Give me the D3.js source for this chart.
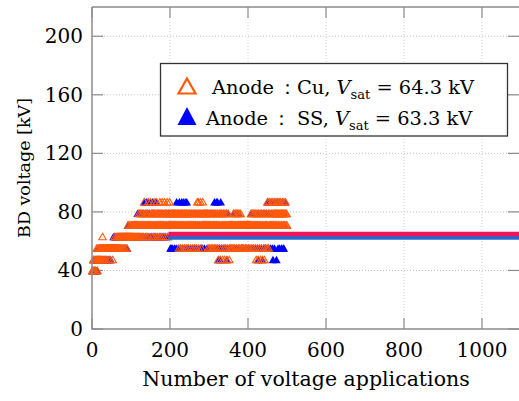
<html>
<script src="https://d3js.org/d3.v7.min.js"></script>
<body style="margin:0;background:#fff">
<script>
// breakdown voltage steps (kV); each character of the shot strings is a step index
const levels = [40, 47.5, 55.3, 63.2, 71.1, 79, 86.9];
const cuShots =
  "0001010010" + "1210121121" + "2122123122" + "1221221222" + "2122212222" +
  "2212222322" + "2322323223" + "3232332332" + "3233233323" + "3343334334" +
  "3433434344" + "3443434435" + "4345344534" + "5436453454" + "3546435446" +
  "4534543564" + "5345463544" + "5346543546" + "4534564534" + "5463545464" +
  "4545445454" + "5445454454" + "4524544254" + "5425445245" + "4254452454" +
  "5424544254" + "4524454256" + "4562454654" + "2546454544" + "5454454245" +
  "4254425424" + "5424542544" + "2541452415" + "4254145241" + "5424514254" +
  "4124424424" + "4254425442" + "5445245424" + "5424424424" + "4424442444" +
  "2444244542" + "4542544524" + "1452415424" + "5142541452" + "4154245426" +
  "4526454464" + "5465446545" + "4654564546" + "5465454654" + "5645465454";
const ssShots =
  "0010001010" + "1101211212" + "2112121221" + "2212122122" + "1221222122" +
  "2222322232" + "3232233232" + "2332323323" + "3323332332" + "3433343334" +
  "4343443434" + "3443435434" + "4534435454" + "3546453464" + "5436454536" +
  "4543564543" + "5436453454" + "4535434543" + "5434543545" + "4543545454" +
  "2452452454" + "5245426454" + "2546452456" + "4526454265" + "4562452454" +
  "5425445245" + "4254452454" + "5424544254" + "4524454245" + "5454245454" +
  "4254452454" + "5426454264" + "4621452416" + "4254425424" + "5424514254" +
  "4424424424" + "4254425442" + "5445245424" + "4424424424" + "4424442444" +
  "2444244542" + "4542544524" + "4452415424" + "5442541452" + "4254245426" +
  "4526454264" + "5421456245" + "4615462546" + "2465424652" + "42546";
const vsatCu = 64.3, vsatSS = 63.3, vsatFrom = 196, vsatTo = 1100;
const xTicks = [0, 200, 400, 600, 800, 1000];
const yTicks = [0, 40, 80, 120, 160, 200];

const cu = Array.from(cuShots, (c, i) => ({n: i + 1, v: levels[+c]}));
const ss = Array.from(ssShots, (c, i) => ({n: i + 1, v: levels[+c]}));

const W = 519, H = 401;
const L = 92, T = 7, R = 521, B = 329;
const font = "'DejaVu Serif', serif";

const svg = d3.select("body").append("svg").attr("width", W).attr("height", H)
  .style("font-family", font);

const x = d3.scaleLinear().domain([0, 1100]).range([L, R]);
const y = d3.scaleLinear().domain([0, 220]).range([B, T]);

// grid
svg.selectAll(".hg").data(yTicks.slice(1)).enter().append("line")
  .attr("x1", L).attr("x2", R).attr("y1", d => y(d)).attr("y2", d => y(d))
  .attr("stroke", "#b4b4b4").attr("stroke-width", 0.8).attr("stroke-dasharray", "1,2");
svg.selectAll(".vg").data(xTicks.slice(1)).enter().append("line")
  .attr("y1", T).attr("y2", B).attr("x1", d => x(d)).attr("x2", d => x(d))
  .attr("stroke", "#c4c4f4").attr("stroke-width", 0.8).attr("stroke-dasharray", "1,2");

// inward ticks on all four sides
const tk = 11, axc = "#8c8c8c";
yTicks.forEach(t => {
  svg.append("line").attr("x1", L).attr("x2", L + tk).attr("y1", y(t)).attr("y2", y(t)).attr("stroke", axc).attr("stroke-width", 1.2);
  svg.append("line").attr("x1", R - 2 - tk).attr("x2", R).attr("y1", y(t)).attr("y2", y(t)).attr("stroke", axc).attr("stroke-width", 1.2);
});
xTicks.forEach(t => {
  svg.append("line").attr("x1", x(t)).attr("x2", x(t)).attr("y1", B).attr("y2", B - tk).attr("stroke", axc).attr("stroke-width", 1.2);
  svg.append("line").attr("x1", x(t)).attr("x2", x(t)).attr("y1", T).attr("y2", T + tk).attr("stroke", axc).attr("stroke-width", 1.2);
});

// markers
const tri = (w, h) => `M0,${-h / 2}L${w / 2},${h / 2}L${-w / 2},${h / 2}Z`;
svg.append("g").selectAll("path").data(ss).enter().append("path")
  .attr("d", tri(8.5, 7.5))
  .attr("transform", d => `translate(${x(d.n)},${y(d.v)})`)
  .attr("fill", "#0000ff");
svg.append("g").selectAll("path").data(cu).enter().append("path")
  .attr("d", tri(7.5, 6.5))
  .attr("transform", d => `translate(${x(d.n)},${y(d.v)})`)
  .attr("fill", "none").attr("stroke", "#ff5a0a").attr("stroke-width", 1.1);

// saturation voltages
svg.append("line").attr("x1", x(vsatFrom)).attr("x2", x(vsatTo))
  .attr("y1", y(vsatSS) + 1.5).attr("y2", y(vsatSS) + 1.5)
  .attr("stroke", "#2468d0").attr("stroke-width", 4);
svg.append("line").attr("x1", x(vsatFrom)).attr("x2", x(vsatTo))
  .attr("y1", y(vsatCu) - 0.8).attr("y2", y(vsatCu) - 0.8)
  .attr("stroke", "#f0145a").attr("stroke-width", 4.5);

// axes box
svg.append("path").attr("d", `M${L},${T}H${R}M${L},${T}V${B}H${R}`)
  .attr("fill", "none").attr("stroke", axc).attr("stroke-width", 1.5);

// tick labels
svg.selectAll(".yl").data(yTicks).enter().append("text")
  .attr("x", 83).attr("y", d => y(d) + 7).attr("text-anchor", "end")
  .attr("font-size", 20).attr("fill", "#000").text(d => d);
svg.selectAll(".xl").data(xTicks).enter().append("text")
  .attr("x", d => x(d)).attr("y", 357).attr("text-anchor", "middle")
  .attr("font-size", 20).attr("fill", "#000").text(d => d);

// axis titles
svg.append("text").attr("x", 306).attr("y", 386).attr("text-anchor", "middle")
  .attr("font-size", 20.5).attr("fill", "#000").text("Number of voltage applications");
svg.append("text").attr("transform", "translate(30,168) rotate(-90)")
  .attr("text-anchor", "middle").attr("font-size", 17.5).attr("fill", "#000")
  .text("BD voltage [kV]");

// legend
const lg = svg.append("g");
lg.append("rect").attr("x", 160.5).attr("y", 63.5).attr("width", 347).attr("height", 72.5)
  .attr("fill", "#fff").attr("stroke", "#333").attr("stroke-width", 1.3);
lg.append("path").attr("d", tri(17, 15)).attr("transform", "translate(187,86)")
  .attr("fill", "none").attr("stroke", "#ff5a0a").attr("stroke-width", 2.2);
lg.append("path").attr("d", tri(19, 18)).attr("transform", "translate(187,116)")
  .attr("fill", "#0000ff");

const entry = (yy, x0, who, val) => {
  const t = lg.append("text").attr("x", x0).attr("y", yy).attr("font-size", 19.4).attr("fill", "#000");
  t.append("tspan").text("Anode\u2009");
  t.append("tspan").text(who + ", ");
  t.append("tspan").attr("font-style", "italic").text("V");
  t.append("tspan").attr("font-size", 13).attr("dy", 5).text("sat");
  t.append("tspan").attr("dy", -5).text(" = " + val + " kV");
};
entry(94, 212, "\uFF1ACu", vsatCu);
entry(125, 206, "\uFF1A SS", vsatSS);
</script>
</body>
</html>
